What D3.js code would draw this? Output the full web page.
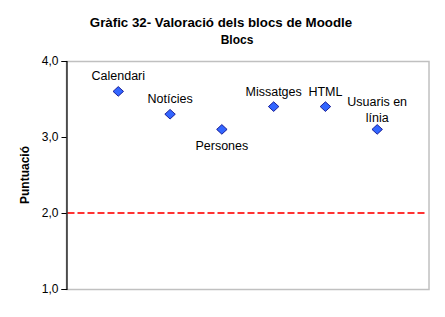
<!DOCTYPE html>
<html><head><meta charset="utf-8">
<script src="https://cdn.jsdelivr.net/npm/d3@7"></script>
<style>body{margin:0;background:#fff}svg{display:block;font-family:"Liberation Sans",Arial,sans-serif}</style>
</head><body><svg id="c" width="445" height="317"></svg>
<script>
const categories = ["Calendari","Notícies","Persones","Missatges","HTML","Usuaris en línia"];
const values = [3.6, 3.3, 3.1, 3.4, 3.4, 3.1];
const labelLines = [["Calendari"],["Notícies"],["Persones"],["Missatges"],["HTML"],["Usuaris en","línia"]];
const labelPos = ["above","above","below","above","above","above"];
const yTicks = [1,2,3,4];
const refValue = 2.0;

const svg = d3.select("#c");
const m = {l:66.5, r:429, t:61, b:289};
const x = d3.scaleLinear().domain([0, categories.length+1]).range([m.l, m.r]);
const y = d3.scaleLinear().domain([1,4]).range([m.b, m.t]);

// plot border
svg.append("rect").attr("x",m.l).attr("y",m.t+0.5).attr("width",m.r-m.l).attr("height",m.b-m.t)
  .attr("fill","none").attr("stroke","#c0c0c0").attr("stroke-width",1.5);

// reference line
svg.append("line").attr("x1",m.l+1).attr("x2",m.r-3).attr("y1",y(refValue)).attr("y2",y(refValue))
  .attr("stroke","#ff3333").attr("stroke-width",2).attr("stroke-dasharray","7,3");

// y axis
const ax = svg.append("g").attr("transform",`translate(${m.l},0)`)
  .call(d3.axisLeft(y).tickValues(yTicks).tickSize(5).tickPadding(3)
    .tickFormat(d=>d3.format(".1f")(d).replace(".",",")));
ax.select(".domain").attr("stroke","#000").attr("stroke-width",1.2);
ax.selectAll(".tick line").attr("stroke","#000");
ax.selectAll("text").attr("font-size",12).attr("fill","#000").attr("font-family","Liberation Sans, Arial, sans-serif");

// points (square diamond)
const squareDiamond = {draw(ctx, size){ const w = Math.sqrt(size)/2, h = w*0.92;
  ctx.moveTo(0,-h); ctx.lineTo(w,0); ctx.lineTo(0,h); ctx.lineTo(-w,0); ctx.closePath(); }};
const sym = d3.symbol().type(squareDiamond).size(110);
svg.selectAll("path.pt").data(values).join("path").attr("class","pt")
  .attr("d",sym).attr("transform",(d,i)=>`translate(${x(i+1)},${y(d)})`)
  .attr("fill","#3366ff").attr("stroke","#000080").attr("stroke-width",0.8);

// labels
labelLines.forEach((lines,i)=>{
  const cx = x(i+1), cy = y(values[i]);
  const t = svg.append("text").attr("text-anchor","middle").attr("font-size",12.5).attr("fill","#000");
  const lh = 16.5;
  lines.forEach((s,j)=>{
    let by;
    if(labelPos[i]==="above") by = cy - (lines.length>1 ? 7 : 11) - (lines.length-1-j)*lh;
    else by = cy + 21 + j*lh;
    t.append("tspan").attr("x",cx).attr("y",by).text(s);
  });
});

// titles
svg.append("text").attr("x",221).attr("y",27).attr("text-anchor","middle")
  .attr("font-size",13.3).attr("font-weight","bold").text("Gràfic 32- Valoració dels blocs de Moodle");
svg.append("text").attr("x",237).attr("y",44).attr("text-anchor","middle")
  .attr("font-size",12).attr("font-weight","bold").text("Blocs");
svg.append("text").attr("transform",`translate(29,175) rotate(-90)`).attr("text-anchor","middle")
  .attr("font-size",12).attr("font-weight","bold").text("Puntuació");
</script></body></html>
